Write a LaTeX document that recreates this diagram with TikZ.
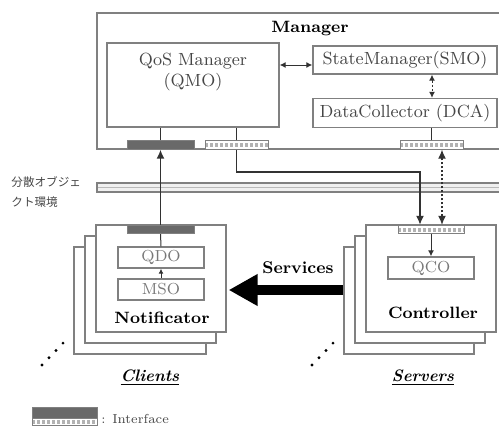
\documentclass[tikz,border=0pt]{standalone}
\usepackage{fontspec}
\newfontfamily\jpfont{Noto Sans CJK JP}
\usetikzlibrary{arrows.meta}
\definecolor{boxgray}{RGB}{128,128,128}
\definecolor{ifdark}{RGB}{105,105,105}
\definecolor{txtgray}{RGB}{70,70,70}
\definecolor{lightgray2}{RGB}{120,120,120}
\definecolor{conncol}{RGB}{50,50,50}
\begin{document}
\begin{tikzpicture}[x=0.5pt,y=-0.5pt,
  box/.style={draw=boxgray, line width=0.7pt, fill=white, inner sep=0pt},
  ifdk/.style={draw=boxgray, line width=0.5pt, fill=ifdark, inner sep=0pt, minimum height=4.2pt},
  iflt/.style={draw=boxgray, line width=0.5pt, fill=white, inner sep=0pt, minimum height=4.2pt,
    path picture={\draw[gray!60, line width=2pt, dash pattern=on 1.5pt off 1pt]
      (path picture bounding box.west) -- (path picture bounding box.east);}},
  txt/.style={inner sep=0pt, text=txtgray, font=\fontsize{8.8}{10}\selectfont},
  smalltxt/.style={inner sep=0pt, text=lightgray2, font=\fontsize{8}{9}\selectfont},
  bold/.style={inner sep=0pt, font=\fontsize{8.2}{9}\selectfont\bfseries},
  conn/.style={draw=conncol, line width=0.75pt},
  thin/.style={draw=conncol, line width=0.5pt},
  tip/.style={-{Latex[length=4.5pt,width=4pt]}},
  dots/.style={draw=conncol, line width=0.6pt, dash pattern=on 1pt off 1pt},
  dot/.style={circle, fill=black, inner sep=0pt, minimum size=1.6pt}
]
\useasboundingbox (0,0) rectangle (499,428);
\clip (0,0) rectangle (499,428);

% Manager
\node[box, minimum width=206.5pt, minimum height=68pt] (mgr) at (303.5,81) {};
\node[bold] (mgrlabel) at (310,29) {Manager};
\node[box, minimum width=86pt, minimum height=42pt] (qmo) at (193,85) {};
\node[txt, align=center] (qmotext) at (193,72) {QoS Manager\\[0.6pt](QMO)};
\node[box, minimum width=92pt, minimum height=14pt, txt] (smo) at (405,60) {StateManager(SMO)};
\node[box, minimum width=92pt, minimum height=14.5pt, txt] (dca) at (405,113) {DataCollector (DCA)};
\node[ifdk, minimum width=33.5pt] (ifd) at (160.5,145) {};
\node[iflt, minimum width=31.5pt] (ifl) at (236.5,145) {};
\node[iflt, minimum width=31.5pt] (ifr) at (431.5,145) {};

\draw[thin] (ifd.north) -- (ifd.north |- qmo.south);
\draw[thin] (ifl.north) -- (ifl.north |- qmo.south);
\draw[thin] (ifr.north) -- (ifr.north |- dca.south);

\draw[thin, {Latex[length=3pt,width=3pt]}-{Latex[length=3pt,width=3pt]}] ([yshift=-2.5pt]qmo.east |- smo.west) -- ([yshift=-2.5pt]smo.west);
\coordinate (sdx) at (432,0);
\draw[thin, dash pattern=on 1.2pt off 1pt, {Latex[length=3pt,width=3pt]}-{Latex[length=3pt,width=3pt]}] (sdx |- smo.south) -- (sdx |- dca.north);

% distributed object bar
\node[draw=boxgray, line width=0.6pt, fill=gray!12, inner sep=0pt, minimum width=206.5pt, minimum height=4.5pt,
  path picture={\draw[gray!55, line width=0.4pt] (path picture bounding box.west) -- (path picture bounding box.east);}] (bar) at (303.5,187.5) {};
\node[inner sep=0pt, anchor=west, align=left, text=txtgray, font=\jpfont\fontsize{5.8}{10}\selectfont] (jp) at (11,192) {分散オブジェ\\クト環境};

% Clients stack
\node[box, minimum width=66pt, minimum height=53.5pt] (cb) at (140,300.5) {};
\node[box, minimum width=65.5pt, minimum height=53.5pt] (cm) at (150.5,289.5) {};
\node[box, minimum width=65pt, minimum height=53.5pt] (cf) at (161,278.5) {};
\node[ifdk, minimum width=33.5pt] (cif) at (160.5,229.5) {};
\node[box, minimum width=43pt, minimum height=10.5pt, smalltxt] (qdo) at (161,257.5) {QDO};
\node[box, minimum width=43pt, minimum height=10.5pt, smalltxt] (mso) at (161,289.5) {MSO};
\node[bold] (notif) at (162,318) {Notificator};
\draw[thin] (cif.south) -- (qdo.north);
\draw[thin, -{Latex[length=2.5pt,width=2.5pt]}] (mso.north) -- (qdo.south);

% Servers stack
\node[box, minimum width=65pt, minimum height=53.5pt] (sb) at (409,300.5) {};
\node[box, minimum width=65pt, minimum height=53.5pt] (sm) at (420,289.5) {};
\node[box, minimum width=65pt, minimum height=53.5pt] (sf) at (431,278.5) {};
\node[iflt, minimum width=33pt] (sif) at (431,229.5) {};
\node[box, minimum width=43pt, minimum height=11pt, smalltxt] (qco) at (431,268) {QCO};
\node[bold] (ctrl) at (433,313) {Controller};
\draw[thin, -{Latex[length=3pt,width=3pt]}] (sif.south) -- (qco.north);

% main connectors
\draw[conn, tip] (cif.north) -- (ifd.south);
\coordinate (bend1) at (236.5,172);
\coordinate (bend2) at (420,172);
\draw[conn, tip] (ifl.south) -- (bend1) -- (bend2) -- (bend2 |- sif.north);
\coordinate (dx) at (442,0);
\draw[dots, {Latex[length=4.5pt,width=4pt]}-{Latex[length=4.5pt,width=4pt]}] (dx |- sif.north) -- (dx |- ifr.south);

% Services arrow
\coordinate (svc) at (0,290);
\draw[line width=4.6pt, -{Triangle[length=14.5pt,width=15pt]}] (sb.west |- svc) -- ([xshift=1pt]cf.east |- svc);
\node[bold, font=\fontsize{8.5}{9}\selectfont\bfseries] (svclabel) at (298,268) {Services};

% dots
\foreach \i in {0,1,2,3} {
  \node[dot] (cd\i) at (42+7*\i,365-7.3*\i) {};
  \node[dot] (sd\i) at (312+7*\i,365-7.3*\i) {};
}

\node[inner sep=0pt, font=\fontsize{8.3}{9}\selectfont\bfseries\itshape] (clients) at (150,378) {\underline{Clients}};
\node[inner sep=0pt, font=\fontsize{8.3}{9}\selectfont\bfseries\itshape] (servers) at (423,378) {\underline{Servers}};

% legend
\node[ifdk, minimum width=32.5pt, minimum height=5.5pt] (legd) at (64.5,412.5) {};
\node[iflt, minimum width=32.5pt, minimum height=3.5pt] (legl) at (64.5,421.5) {};
\node[inner sep=0pt, anchor=west, text=txtgray, font=\fontsize{6.5}{8}\selectfont] (legtext) at (101,419) {: Interface};
\end{tikzpicture}
\end{document}
